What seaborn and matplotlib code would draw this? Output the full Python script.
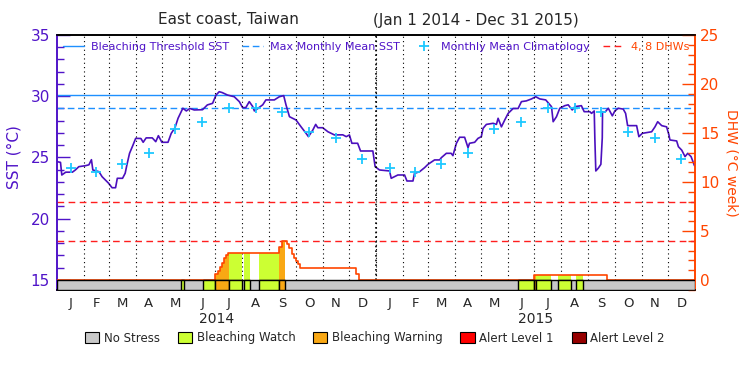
"""
Coral Reef Watch style SST / DHW chart for East coast, Taiwan (2014-2015).
"""

import matplotlib
matplotlib.use("Agg")
import matplotlib.pyplot as plt
import matplotlib.transforms as mtransforms
from matplotlib.lines import Line2D
from matplotlib.patches import Patch
from matplotlib.ticker import MultipleLocator
import seaborn as sns
import numpy as np
import pandas as pd

sns.set_style("white")
plt.rcParams["font.family"] = ["DejaVu Sans"]

PURPLE = "#5014c8"
SST_COLOR = "#4b0fbe"
THR_COLOR = "#1e90ff"
CLIM_COLOR = "#1ec8ff"
DHW_RED = "#ff1e1e"
ORANGE = "#ff4500"
STRESS_COLORS = ["#c8c8c8", "#ccff33", "#f9a814", "#ff0000", "#960000"]
STRESS_NAMES = ["No Stress", "Bleaching Watch", "Bleaching Warning", "Alert Level 1", "Alert Level 2"]

# ---- data (days since Jan 1 2014) ----
sst_day = [0, 4, 5.5, 10, 17.6, 21, 25, 32.6, 36.5, 39.4, 41, 48, 51.6, 59, 63, 67, 69, 75, 78, 80,
           83, 87, 90, 96, 98.6, 102, 109, 113, 116, 120, 127, 130.7, 135, 138.5, 144, 148, 152, 157,
           166.5, 172, 178, 182, 185.6, 189, 195, 202.8, 208.6, 212.4, 216, 220, 224, 225.8, 229.6,
           235.4, 239, 248.7, 254.4, 259.4, 262, 266, 273.5, 279.3, 285, 287.7, 292.7, 296, 298.4,
           304, 310, 317.5, 327, 331, 334.6, 337.4, 344, 347.3, 361.4, 364, 369, 380.5, 382.4, 386.2,
           390, 397.7, 400.4, 407.3, 409, 414.9, 420.6, 424.5, 432, 437.8, 439.7, 445.5, 451, 453,
           457, 460.7, 466.4, 470.3, 472, 477.9, 481.7, 485.5, 487.5, 491.3, 499, 502.8, 504.7, 508.5,
           512.3, 516.2, 521.9, 527.6, 531.4, 537, 542.9, 547.8, 552.4, 559.2, 565.8, 567.7, 571.5,
           575.3, 581, 584.9, 589.5, 592.5, 600, 603.2, 609.7, 611.6, 614.7, 615.4, 616.5, 619.3,
           622.3, 623.9, 624.2, 627, 630.8, 635.4, 638.3, 642.2, 647.9, 650.6, 652.9, 663.2, 665.8,
           669.7, 680.4, 684.2, 687.3, 691.9, 697.5, 700.2, 701.3, 709, 711, 714.8, 718.6, 721.7,
           725.5, 729.4]
sst_val = [24.66, 24.6, 23.57, 23.8, 23.8, 23.98, 24.25, 24.33, 24.4, 24.82, 23.98, 23.84, 23.43,
           22.9, 22.53, 22.53, 23.3, 23.3, 23.71, 24.4, 25.34, 26.02, 26.56, 26.55, 26.24, 26.6,
           26.6, 26.29, 26.78, 26.24, 26.24, 26.97, 27.43, 28.2, 29.02, 28.8, 29.0, 28.88, 28.9,
           29.29, 29.42, 30.1, 30.37, 30.3, 30.1, 29.96, 29.56, 29.07, 29.07, 29.56, 29.15, 28.8,
           29.0, 29.3, 29.7, 29.7, 29.96, 30.05, 29.3, 28.33, 28.06, 27.5, 26.97, 26.7, 27.24,
           27.7, 27.43, 27.43, 27.1, 26.84, 26.85, 26.7, 26.84, 26.16, 26.16, 25.53, 25.53, 24.25,
           23.98, 23.9, 23.3, 23.43, 23.57, 23.57, 23.08, 23.08, 23.7, 23.84, 24.17, 24.44, 24.8,
           24.8, 24.98, 25.34, 25.34, 25.15, 26.16, 26.65, 26.65, 25.8, 26.16, 26.24, 26.56, 26.7,
           27.38, 27.7, 27.79, 27.7, 28.2, 27.5, 28.06, 28.6, 29.0, 29.0, 29.56, 29.62, 29.78,
           29.96, 29.78, 29.7, 29.15, 27.92, 28.33, 29.02, 29.23, 29.3, 28.88, 29.15, 29.23, 28.74,
           28.74, 28.6, 28.8, 26.56, 23.9, 24.12, 24.44, 26.6, 28.74, 28.7, 29.02, 28.4, 28.8,
           29.02, 28.95, 28.6, 27.6, 27.6, 26.7, 26.97, 27.1, 27.5, 27.92, 27.6, 27.5, 26.84,
           26.43, 26.35, 25.88, 25.6, 25.07, 25.34, 25.07, 24.33]

clim_monthly = [24.17, 23.84, 24.44, 25.4, 27.3, 27.92, 29.07, 29.07, 28.69, 27.06, 26.56, 24.85]
mmm_sst = 29.07
threshold_sst = 30.07
dhw_levels = [4, 8]

dhw_day = [0, 181, 183.8, 186.1, 188.4, 190.7, 193.3, 195.2, 254.4, 257, 263.6, 265.9, 268.6,
           270.9, 273.5, 276.2, 278.5, 342.3, 345, 545.5, 629.6, 730]
dhw_val = [0, 0.56, 0.9, 1.31, 1.76, 2.28, 2.54, 2.79, 3.36, 3.98, 3.71, 3.3, 2.69, 2.28, 1.93,
           1.59, 1.18, 0.64, 0, 0.53, 0, 0]

stress_start = [142, 167.3, 181, 197, 214, 231.6, 254.4, 528, 545.5, 548.6, 573.4, 594.4]
stress_end = [145.6, 181, 197, 211.5, 221, 254.4, 261, 545.5, 548.6, 565.8, 587.9, 601.3]
stress_level = [1, 1, 2, 1, 1, 1, 2, 1, 2, 1, 1, 1]

month_starts = (pd.date_range("2014-01-01", "2016-01-01", freq="MS")
                - pd.Timestamp("2014-01-01")).days.values
month_mids = (month_starts[:-1] + month_starts[1:]) / 2
month_letters = list("JFMAMJJASOND") * 2
year_labels = ["2014", "2015"]
year_mids = [182.5, 547.5]

# ---- figure ----
fig = plt.figure(figsize=(7.5, 3.75), dpi=100)
ax = fig.add_axes([57 / 750, 85 / 375, 638 / 750, 255 / 375])
sst_lo, sst_hi = 14.18, 35
ax.set_xlim(0, 730)
ax.set_ylim(sst_lo, sst_hi)
ax2 = ax.twinx()
ax2.set_ylim((sst_lo - 15) * 1.25, (sst_hi - 15) * 1.25)
bar_bot = (sst_lo - 15) * 1.25

# SST, thresholds, climatology
ax.axhline(threshold_sst, color=THR_COLOR, lw=1.0, zorder=2)
ax.axhline(mmm_sst, color=THR_COLOR, lw=1.0, dashes=(4.8, 2.6), zorder=2)
sns.lineplot(x=sst_day, y=sst_val, ax=ax, color=SST_COLOR, lw=1.2, estimator=None, sort=False, zorder=4)
sns.scatterplot(x=month_mids, y=np.tile(clim_monthly, 2), ax=ax, marker="+", s=60,
                color=CLIM_COLOR, linewidth=1.3, zorder=5)

# month grid
ax2.vlines(month_starts[1:-1], 0, 25, colors="black", linestyles=(0, (1, 2.9)), lw=0.8, zorder=1)
ax2.vlines([365], 0, 25, colors="black", linestyles=(0, (1, 1.8)), lw=1.2, zorder=1)

# DHW lines and fill coloured by stress level
for lvl in dhw_levels:
    ax2.axhline(lvl, color=DHW_RED, lw=1.0, dashes=(4.8, 3.2), zorder=2)
dhw_poly = ax2.fill_between(dhw_day, 0, dhw_val, step="post", facecolor="none", linewidth=0)
clip = dhw_poly.get_paths()[0]
for s, e, lvl in zip(stress_start, stress_end, stress_level):
    span = ax2.axvspan(s, e, color=STRESS_COLORS[lvl], lw=0, zorder=2)
    span.set_clip_path(clip, ax2.transData)
sns.lineplot(x=dhw_day, y=dhw_val, ax=ax2, color=ORANGE, lw=1.2, drawstyle="steps-post",
             estimator=None, sort=False, zorder=3)

# stress bar
ax2.bar(x=0, height=-bar_bot, width=730, bottom=bar_bot, align="edge", color=STRESS_COLORS[0],
        edgecolor="black", lw=1.0, zorder=5)
ax2.bar(x=stress_start, height=-bar_bot, width=np.subtract(stress_end, stress_start),
        bottom=bar_bot, align="edge", color=[STRESS_COLORS[l] for l in stress_level],
        edgecolor="black", lw=1.0, zorder=6)

# axes styling
ax.set_xticks(month_mids)
ax.set_xticklabels(month_letters)
ax.tick_params(axis="x", length=0, labelsize=9.5, pad=5)
ax.set_yticks([15, 20, 25, 30, 35])
ax.yaxis.set_minor_locator(MultipleLocator(1))
ax.tick_params(axis="y", which="both", direction="in", left=True, color=PURPLE,
               labelcolor=PURPLE, labelsize=11, pad=5, width=1)
ax.tick_params(axis="y", which="major", length=9.5)
ax.tick_params(axis="y", which="minor", length=5)
ax.set_ylabel("SST (\u00b0C)", color=PURPLE, fontsize=11)
ax.yaxis.set_label_coords(-0.056, 0.52)
ax.set_xlabel("")

ax2.set_yticks([0, 5, 10, 15, 20, 25])
ax2.yaxis.set_minor_locator(MultipleLocator(1))
ax2.tick_params(axis="y", which="both", direction="in", right=True, left=False, color=ORANGE,
                labelcolor=ORANGE, labelsize=11, pad=3.5, width=1)
ax2.tick_params(axis="y", which="major", length=9.5)
ax2.tick_params(axis="y", which="minor", length=5)
ax2.set_ylabel("DHW (\u00b0C week)", color=ORANGE, fontsize=10, rotation=-90)
ax2.yaxis.set_label_coords(1.068, 0.5)

for a in (ax, ax2):
    a.spines["left"].set_color(PURPLE)
    a.spines["right"].set_color(ORANGE)
    a.spines["top"].set_color("black")
    a.spines["bottom"].set_color("black")
    for sp in a.spines.values():
        sp.set_linewidth(1.2)

trans = mtransforms.blended_transform_factory(ax.transData, ax.transAxes)
for lab, xm in zip(year_labels, year_mids):
    ax.text(xm, -0.112, lab, transform=trans, ha="center", va="center", fontsize=10)

# titles
fig.text(228 / 750, 1 - 20 / 375, "East coast, Taiwan", ha="center", va="center", fontsize=11)
fig.text(476 / 750, 1 - 20 / 375, "(Jan 1 2014 - Dec 31 2015)", ha="center", va="center", fontsize=11)

# top legend
handles = [
    Line2D([], [], color=THR_COLOR, lw=1.0, label="Bleaching Threshold SST"),
    Line2D([], [], color=THR_COLOR, lw=1.0, dashes=(4.8, 2.6), label="Max Monthly Mean SST"),
    Line2D([], [], color=CLIM_COLOR, marker="+", ls="none", markersize=7, mew=1.3,
           label="Monthly Mean Climatology"),
    Line2D([], [], color=DHW_RED, lw=1.0, dashes=(4.8, 3.2), label="4, 8 DHWs"),
]
leg = ax2.legend(handles=handles, loc="upper center", bbox_to_anchor=(0.5, 1.0), ncol=4,
                 frameon=False, fontsize=8, handlelength=1.9, handletextpad=0.6,
                 columnspacing=1.2, borderaxespad=0.3, borderpad=0.3)
for t, c in zip(leg.get_texts(), [PURPLE, PURPLE, PURPLE, ORANGE]):
    t.set_color(c)

# stress legend
stress_handles = [Patch(facecolor=c, edgecolor="black", lw=0.8, label=n)
                  for c, n in zip(STRESS_COLORS, STRESS_NAMES)]
fig.legend(handles=stress_handles, loc="center", bbox_to_anchor=(0.5, 1 - 338 / 375), ncol=5,
           frameon=False, fontsize=8.5, handlelength=1.2, handleheight=1.1, handletextpad=0.4,
           columnspacing=1.5)

fig.savefig("out.png", dpi=100)
plt.close(fig)
